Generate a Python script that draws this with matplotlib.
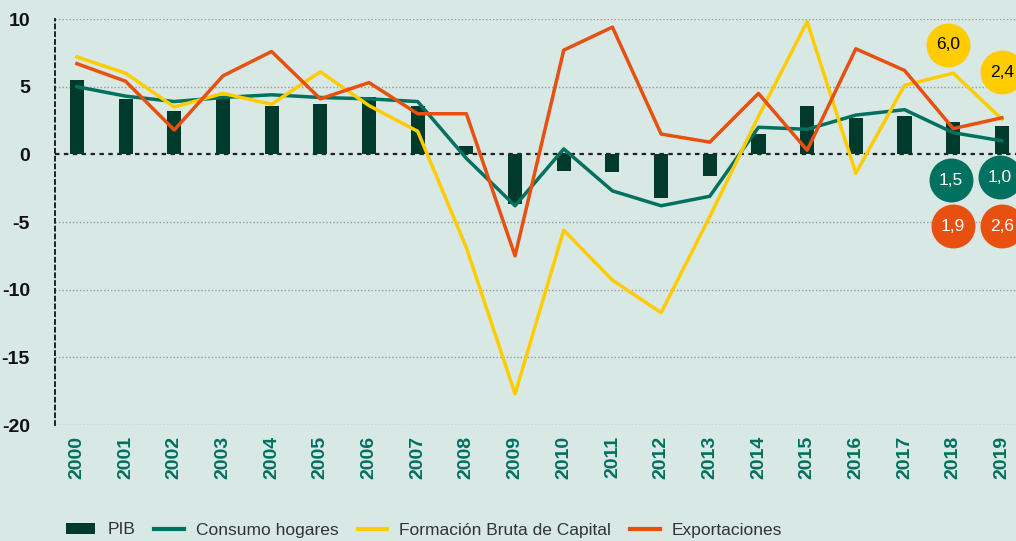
import matplotlib.pyplot as plt
from matplotlib.lines import Line2D
from matplotlib.patches import Patch

years = list(range(2000, 2020))
pib = [5.5, 4.1, 3.2, 4.3, 3.6, 3.7, 4.2, 3.6, 0.6, -3.7,
       -1.2, -1.3, -3.2, -1.6, 1.5, 3.6, 2.7, 2.8, 2.4, 2.1]
consumo = [5.0, 4.3, 3.9, 4.2, 4.4, 4.2, 4.1, 3.9, -0.3, -3.8,
           0.4, -2.7, -3.8, -3.1, 2.0, 1.85, 2.9, 3.3, 1.6, 1.0]
fbk = [7.2, 6.0, 3.5, 4.5, 3.7, 6.1, 3.6, 1.7, -6.9, -17.7,
       -5.6, -9.3, -11.7, -4.6, 2.8, 9.8, -1.4, 5.1, 6.0, 2.6]
export = [6.7, 5.4, 1.8, 5.8, 7.6, 4.1, 5.3, 3.0, 3.0, -7.5,
          7.7, 9.4, 1.5, 0.9, 4.5, 0.3, 7.8, 6.2, 1.9, 2.7]

# circle labels: (x, y, text, colour, text colour)
badges = [
    (2017.9, 8.1, "6,0", "#ffcc00", "black"),
    (2019.0, 6.05, "2,4", "#ffcc00", "black"),
    (2017.95, -1.9, "1,5", "#00705f", "white"),
    (2018.96, -1.7, "1,0", "#00705f", "white"),
    (2018.0, -5.3, "1,9", "#e8500f", "white"),
    (2019.0, -5.3, "2,6", "#e8500f", "white"),
]

bg = "#d8e8e5"
c_pib = "#003a2c"
c_cons = "#00705f"
c_fbk = "#ffcc00"
c_exp = "#e8500f"

fig = plt.figure(figsize=(10.16, 5.41), dpi=100, facecolor=bg)
ax = fig.add_axes([55 / 1016, 1 - 425 / 541, 1 - 55 / 1016, (425 - 19) / 541])
ax.set_facecolor(bg)

for y in [10, 5, -5, -10, -15, -20]:
    ax.axhline(y, color="#999999", lw=1, ls=(0, (1, 1.5)), zorder=1)
ax.axhline(0, color="#222222", lw=1.6, ls=(0, (2, 2)), zorder=2)

ax.bar(years, pib, width=0.29, color=c_pib, zorder=3)
ax.plot(years, consumo, color=c_cons, lw=2.5, zorder=4)
ax.plot(years, fbk, color=c_fbk, lw=2.5, zorder=5)
ax.plot(years, export, color=c_exp, lw=2.5, zorder=6)

for x, y, t, c, tc in badges:
    ax.scatter([x], [y], s=1000, color=c, zorder=7, linewidths=0)
    ax.text(x, y, t, ha="center", va="center", color=tc, fontsize=12.5,
            family="Liberation Sans", zorder=8)

ax.set_xlim(1999.55, 2019.29)
ax.set_ylim(-20, 10)
ax.set_yticks([10, 5, 0, -5, -10, -15, -20])
ax.set_yticklabels(["10", "5", "0", "-5", "-10", "-15", "-20"],
                   fontsize=14, fontweight="bold", family="Liberation Sans",
                   color="#111111")
ax.set_xticks(years)
ax.set_xticklabels([str(y) for y in years], rotation=90, fontsize=14,
                   fontweight="bold", family="Liberation Sans", color=c_cons)
ax.tick_params(axis="y", length=0, pad=18)
ax.tick_params(axis="x", length=0, pad=8)

for s in ["top", "right", "bottom"]:
    ax.spines[s].set_visible(False)
ax.spines["left"].set_linestyle((0, (2, 2)))
ax.spines["left"].set_linewidth(1.4)
ax.spines["left"].set_color("#222222")

handles = [
    Patch(facecolor=c_pib, edgecolor="none"),
    Line2D([], [], color=c_cons, lw=3),
    Line2D([], [], color=c_fbk, lw=3),
    Line2D([], [], color=c_exp, lw=3),
]
labels = ["PIB", "Consumo hogares", "Formación Bruta de Capital", "Exportaciones"]
fig.legend(handles, labels, loc="center left", bbox_to_anchor=(50 / 1016, 11 / 541),
           ncol=4, frameon=False, handlelength=1.7, handleheight=0.6,
           handletextpad=0.7, columnspacing=1.1,
           prop={"family": "Liberation Sans", "size": 12.5}, labelcolor="#333333")

fig.savefig("out.png", dpi=100, facecolor=bg)
